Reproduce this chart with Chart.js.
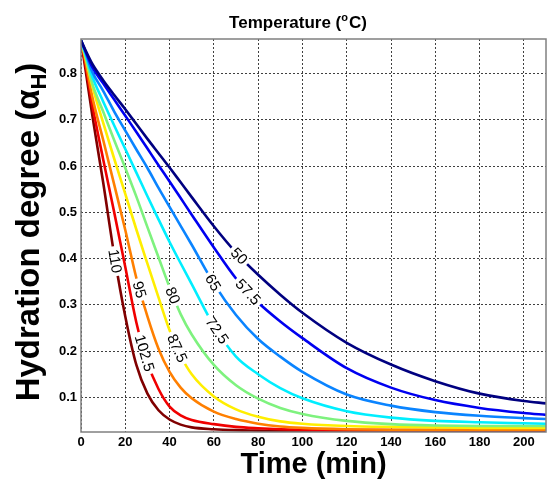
<!doctype html>
<html lang="en">
<head>
  <meta charset="utf-8">
  <title>Hydration degree vs time</title>
  <script src="https://cdn.jsdelivr.net/npm/chart.js"></script>
  <style>
    html, body { margin: 0; padding: 0; background: #fff; }
  </style>
</head>
<body>
  <canvas id="chart" width="548" height="482"></canvas>

  <script>
    // values
    const times = [0, 2, 5, 10, 15, 20, 25, 30, 35, 40, 45, 50, 60, 70, 80, 90, 100, 120, 140, 160, 180, 200, 210];
    const temps = ['50', '57.5', '65', '72.5', '80', '87.5', '95', '102.5', '110'];

    const alpha50 = [0.872, 0.851, 0.822, 0.786, 0.754, 0.723, 0.691, 0.659, 0.628, 0.597, 0.565, 0.533, 0.470, 0.413, 0.365, 0.322, 0.283, 0.218, 0.171, 0.135, 0.108, 0.092, 0.087];
    const alpha575 = [0.872, 0.849, 0.815, 0.779, 0.744, 0.709, 0.674, 0.638, 0.602, 0.567, 0.531, 0.495, 0.424, 0.357, 0.305, 0.264, 0.228, 0.163, 0.121, 0.094, 0.077, 0.066, 0.062];
    const alpha65 = [0.872, 0.847, 0.805, 0.763, 0.718, 0.677, 0.636, 0.596, 0.553, 0.512, 0.471, 0.430, 0.346, 0.278, 0.226, 0.188, 0.155, 0.106, 0.082, 0.068, 0.060, 0.055, 0.053];
    const alpha725 = [0.872, 0.843, 0.795, 0.740, 0.688, 0.637, 0.586, 0.535, 0.485, 0.436, 0.390, 0.345, 0.255, 0.188, 0.150, 0.120, 0.098, 0.070, 0.056, 0.049, 0.046, 0.044, 0.043];
    const alpha80 = [0.872, 0.838, 0.780, 0.718, 0.656, 0.596, 0.534, 0.468, 0.403, 0.338, 0.280, 0.236, 0.170, 0.126, 0.097, 0.077, 0.064, 0.049, 0.042, 0.039, 0.038, 0.038, 0.038];
    const alpha875 = [0.872, 0.835, 0.775, 0.694, 0.616, 0.540, 0.463, 0.389, 0.316, 0.245, 0.190, 0.150, 0.102, 0.074, 0.058, 0.048, 0.043, 0.038, 0.036, 0.035, 0.034, 0.034, 0.034];
    const alpha95 = [0.872, 0.828, 0.752, 0.657, 0.560, 0.462, 0.358, 0.275, 0.205, 0.155, 0.121, 0.098, 0.069, 0.053, 0.043, 0.037, 0.034, 0.031, 0.030, 0.030, 0.030, 0.030, 0.030];
    const alpha1025 = [0.872, 0.820, 0.735, 0.615, 0.500, 0.382, 0.262, 0.175, 0.118, 0.080, 0.061, 0.051, 0.042, 0.036, 0.033, 0.031, 0.030, 0.029, 0.029, 0.029, 0.029, 0.029, 0.029];
    const alpha110 = [0.872, 0.810, 0.713, 0.565, 0.408, 0.275, 0.170, 0.108, 0.072, 0.052, 0.041, 0.035, 0.031, 0.029, 0.028, 0.027, 0.027, 0.027, 0.027, 0.027, 0.027, 0.027, 0.027];

    const xTicks = [0, 20, 40, 60, 80, 100, 120, 140, 160, 180, 200];
    const yTicks = [0.1, 0.2, 0.3, 0.4, 0.5, 0.6, 0.7, 0.8];

    const series = [alpha50, alpha575, alpha65, alpha725, alpha80, alpha875, alpha95, alpha1025, alpha110];
    const colors = ['#000080', '#0000f0', '#0a84ff', '#00eeff', '#7ef27e', '#ffee00', '#ff7f00', '#f00000', '#800000'];
    // where along each curve (in minutes) its temperature label sits
    const labelAt = [71.5, 75.5, 59.7, 61.5, 41.5, 43.5, 26.5, 28.8, 15.5];

    const FONT = '"Liberation Sans", Arial, Helvetica, sans-serif';

    function valueAt(arr, t) {
      for (let j = 0; j < times.length - 1; j++) {
        if (t >= times[j] && t <= times[j + 1]) {
          const f = (t - times[j]) / (times[j + 1] - times[j]);
          return arr[j] + f * (arr[j + 1] - arr[j]);
        }
      }
      return arr[arr.length - 1];
    }

    const decor = {
      id: 'decor',
      afterDatasetsDraw(chart) {
        const { ctx, scales: { x, y } } = chart;
        ctx.save();
        ctx.font = '15px ' + FONT;
        series.forEach((arr, i) => {
          const t = labelAt[i];
          const px = x.getPixelForValue(t);
          const py = y.getPixelForValue(valueAt(arr, t));
          const x1 = x.getPixelForValue(t - 2), y1 = y.getPixelForValue(valueAt(arr, t - 2));
          const x2 = x.getPixelForValue(t + 2), y2 = y.getPixelForValue(valueAt(arr, t + 2));
          const ang = Math.atan2(y2 - y1, x2 - x1);
          const w = ctx.measureText(temps[i]).width;
          ctx.save();
          ctx.translate(px, py);
          ctx.rotate(ang);
          ctx.fillStyle = '#fff';
          ctx.fillRect(-w / 2 - 3, -4, w + 6, 8);
          ctx.fillStyle = '#000';
          ctx.textAlign = 'center';
          ctx.textBaseline = 'middle';
          ctx.fillText(temps[i], 0, 1);
          ctx.restore();
        });
        ctx.restore();
      },
      afterDraw(chart) {
        const { ctx, chartArea: a } = chart;
        ctx.save();
        // axes box
        ctx.strokeStyle = '#808080';
        ctx.lineWidth = 1.5;
        ctx.strokeRect(a.left, a.top, a.right - a.left, a.bottom - a.top);

        ctx.fillStyle = '#000';
        ctx.textBaseline = 'alphabetic';

        // title with superscript o
        ctx.font = 'bold 17px ' + FONT;
        const p1 = 'Temperature (', p3 = 'C)';
        const w1 = ctx.measureText(p1).width, w3 = ctx.measureText(p3).width;
        ctx.font = 'bold 11px ' + FONT;
        const w2 = ctx.measureText('o').width + 1;
        const tx = 298 - (w1 + w2 + w3) / 2;
        const ty = 28;
        ctx.font = 'bold 17px ' + FONT;
        ctx.fillText(p1, tx, ty);
        ctx.font = 'bold 11px ' + FONT;
        ctx.fillText('o', tx + w1, ty - 7);
        ctx.font = 'bold 17px ' + FONT;
        ctx.fillText(p3, tx + w1 + w2, ty);

        // y axis title, rotated, alpha with subscript H
        ctx.translate(39, 232);
        ctx.rotate(-Math.PI / 2);
        ctx.font = 'bold 33px ' + FONT;
        const q1 = 'Hydration degree (\u03b1';
        const q3 = ')';
        const v1 = ctx.measureText(q1).width, v3 = ctx.measureText(q3).width;
        ctx.font = 'bold 22px ' + FONT;
        const v2 = ctx.measureText('H').width;
        const sx = -(v1 + v2 + v3) / 2;
        ctx.font = 'bold 33px ' + FONT;
        ctx.fillText(q1, sx, 0);
        ctx.font = 'bold 22px ' + FONT;
        ctx.fillText('H', sx + v1, 7);
        ctx.font = 'bold 33px ' + FONT;
        ctx.fillText(q3, sx + v1 + v2, 0);
        ctx.restore();
      }
    };

    const ctx = document.getElementById('chart');

    new Chart(ctx, {
      type: 'line',
      data: {
        datasets: series.map((arr, i) => ({
          label: temps[i],
          data: times.map((t, j) => ({ x: t, y: arr[j] })),
          borderColor: colors[i],
          borderWidth: 2.6,
          pointRadius: 0,
          fill: false,
          cubicInterpolationMode: 'monotone'
        }))
      },
      options: {
        responsive: false,
        animation: false,
        devicePixelRatio: 1,
        layout: { padding: { top: 39, right: 2, left: 0, bottom: 0 } },
        plugins: {
          legend: { display: false },
          tooltip: { enabled: false }
        },
        scales: {
          x: {
            type: 'linear',
            min: 0,
            max: 210,
            afterBuildTicks: s => { s.ticks = xTicks.map(v => ({ value: v })); },
            afterFit: s => { s.height = 50; },
            ticks: {
              color: '#000',
              font: { family: FONT, size: 13, weight: 'bold' },
              padding: 3,
              maxRotation: 0,
              autoSkip: false
            },
            grid: { color: 'rgba(0,0,0,0.75)', lineWidth: 1, drawTicks: false },
            border: { display: false, dash: [2, 2] },
            title: {
              display: true,
              text: 'Time (min)',
              color: '#000',
              font: { family: FONT, size: 29, weight: 'bold' },
              padding: { top: 0, bottom: 0 }
            }
          },
          y: {
            min: 0.025,
            max: 0.875,
            afterBuildTicks: s => { s.ticks = yTicks.map(v => ({ value: v })); },
            afterFit: s => { s.width = 81; },
            ticks: {
              color: '#000',
              font: { family: FONT, size: 13, weight: 'bold' },
              padding: 4,
              callback: v => v.toFixed(1)
            },
            grid: { color: 'rgba(0,0,0,0.75)', lineWidth: 1, drawTicks: false },
            border: { display: false, dash: [2, 2] }
          }
        }
      },
      plugins: [decor]
    });
  </script>
</body>
</html>
